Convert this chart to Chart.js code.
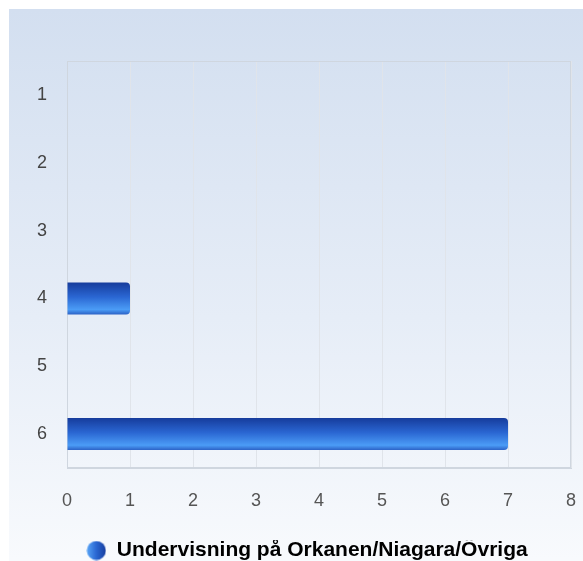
<!DOCTYPE html>
<html>
<head>
<meta charset="utf-8">
<script src="https://cdn.jsdelivr.net/npm/chart.js@4"></script>
<style>
	html, body { margin: 0; padding: 0; background: #fff; overflow: hidden; }
	.wrap {
		position: absolute;
		left: 9px;
		top: 9px;
		width: 574px;
		height: 562px;
		background: linear-gradient(to bottom, #d3dff0 0%, #e6edf7 55%, #f8fafd 98%);
	}
</style>
</head>
<body>
<div class="wrap"><canvas id="chart" width="574" height="562"></canvas></div>
<script>
const categories = ['1', '2', '3', '4', '5', '6'];
const seriesLabel = 'Undervisning på Orkanen/Niagara/Övriga';
const seriesValues = [0, 0, 0, 1, 0, 7];
const xTicks = [0, 1, 2, 3, 4, 5, 6, 7, 8];

const BAR_THICKNESS = 32;
const FONT = 'Arial, "Liberation Sans", sans-serif';

const barGradient = (ctx, y0, y1) => {
	const g = ctx.createLinearGradient(0, y0, 0, y1);
	g.addColorStop(0, '#163c9c');
	g.addColorStop(0.45, '#2a66d2');
	g.addColorStop(0.85, '#4b9cf6');
	g.addColorStop(1, '#2c62c6');
	return g;
};

// round marker for the legend, lit from the left
const legendMarker = (() => {
	const size = 20;
	const c = document.createElement('canvas');
	c.width = size;
	c.height = size;
	const ctx = c.getContext('2d');
	const g = ctx.createLinearGradient(0, 0, size, 0);
	g.addColorStop(0, '#5aa8f8');
	g.addColorStop(0.5, '#2a66d2');
	g.addColorStop(1, '#163c9c');
	ctx.fillStyle = g;
	ctx.beginPath();
	ctx.arc(size / 2, size / 2, size / 2 - 0.5, 0, Math.PI * 2);
	ctx.fill();
	return c;
})();

const plotBorder = {
	id: 'plotBorder',
	beforeDatasetsDraw(chart) {
		const { ctx, chartArea } = chart;
		ctx.save();
		ctx.strokeStyle = '#cfd6df';
		ctx.lineWidth = 1;
		ctx.strokeRect(chartArea.left + 0.5, chartArea.top + 0.5, chartArea.width - 1, chartArea.height - 1);
		ctx.restore();
	},
};

new Chart(document.getElementById('chart'), {
	type: 'bar',
	data: {
		labels: categories,
		datasets: [{
			label: seriesLabel,
			data: seriesValues,
			barThickness: BAR_THICKNESS,
			inflateAmount: 0,
			borderRadius: { topRight: 4, bottomRight: 4, topLeft: 0, bottomLeft: 0 },
			borderSkipped: false,
			backgroundColor: (context) => {
				const chart = context.chart;
				const yScale = chart.scales.y;
				if (!yScale || context.dataIndex === undefined) {
					return '#2a66d2';
				}
				const y = yScale.getPixelForValue(context.dataIndex);
				return barGradient(chart.ctx, y - BAR_THICKNESS / 2, y + BAR_THICKNESS / 2);
			},
		}],
	},
	options: {
		indexAxis: 'y',
		responsive: false,
		animation: false,
		layout: {
			padding: { top: 52, right: 0, left: 22, bottom: 0 },
		},
		plugins: {
			legend: {
				position: 'bottom',
				labels: {
					usePointStyle: true,
					boxWidth: 20,
					boxHeight: 20,
					padding: 0,
					color: '#333333',
					font: { family: FONT, size: 21, weight: 'bold' },
					generateLabels: () => [{
						text: seriesLabel,
						fillStyle: '#2a66d2',
						strokeStyle: '#2a66d2',
						lineWidth: 0,
						pointStyle: legendMarker,
						datasetIndex: 0,
					}],
				},
			},
			tooltip: { enabled: false },
		},
		scales: {
			x: {
				min: 0,
				max: 8,
				afterBuildTicks: (scale) => {
					scale.ticks = xTicks.map((value) => ({ value }));
				},
				afterFit: (scale) => {
					scale.height = 72;
					scale.paddingLeft = 0;
					scale.paddingRight = 12;
				},
				ticks: {
					color: '#555555',
					padding: 22,
					font: { family: FONT, size: 18 },
				},
				grid: { color: '#e0e4ea', drawTicks: false },
				border: { color: '#cfd6df' },
			},
			y: {
				afterFit: (scale) => {
					scale.width = 36;
				},
				ticks: {
					color: '#444444',
					padding: 20,
					font: { family: FONT, size: 18 },
				},
				grid: { display: false, drawTicks: false },
				border: { color: '#cfd6df' },
			},
		},
	},
	plugins: [plotBorder],
});
</script>
</body>
</html>
